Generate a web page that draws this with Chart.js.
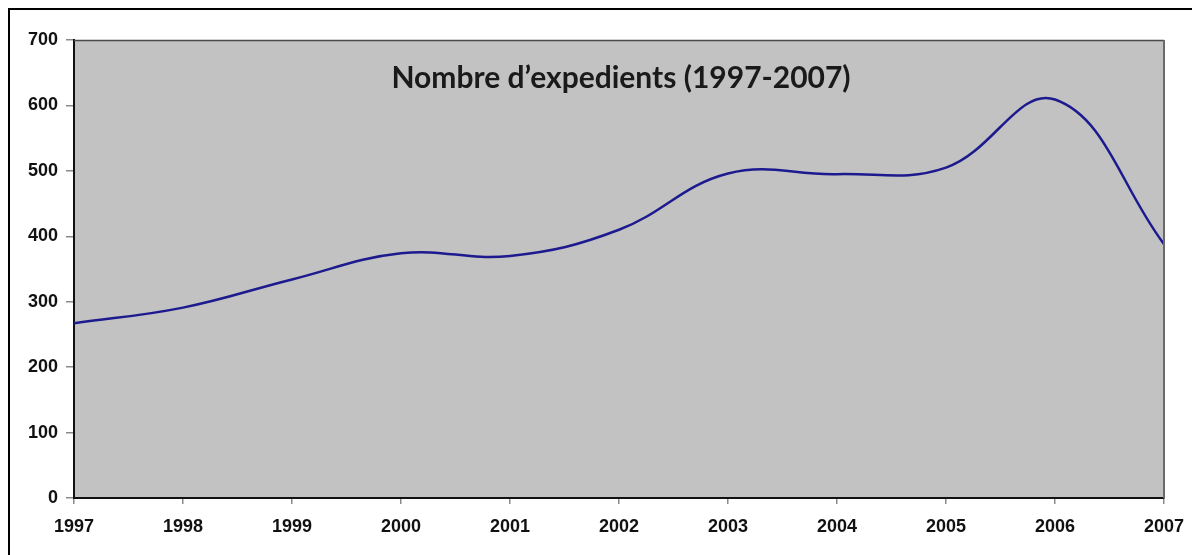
<!DOCTYPE html>
<html>
<head>
<meta charset="utf-8">
<script src="https://cdn.jsdelivr.net/npm/chart.js@4/dist/chart.umd.min.js"></script>
<style>
  html, body { margin:0; padding:0; background:#fff; overflow:hidden; }
  #wrap { position:relative; width:1192px; height:555px; }
  #frame { position:absolute; left:8px; top:8px; width:1300px; height:700px; border:2px solid #000; box-sizing:border-box; pointer-events:none; }
  canvas { position:absolute; left:0; top:0; }
</style>
</head>
<body>
<div id="wrap">
  <canvas id="c" width="1192" height="555"></canvas>
  <div id="frame"></div>
</div>
<script>
const years = [1997, 1998, 1999, 2000, 2001, 2002, 2003, 2004, 2005, 2006, 2007];
const expedients = [267, 291, 334, 374, 370, 410, 496, 495, 505, 609, 388];
const yTicks = [0, 100, 200, 300, 400, 500, 600, 700];
const titleText = "Nombre d\u2019expedients (1997-2007)";

const bgPlugin = {
  id: 'bg',
  beforeDraw(chart) {
    const {ctx, chartArea: a} = chart;
    ctx.save();
    ctx.fillStyle = '#c2c2c2';
    ctx.fillRect(a.left, a.top, a.right - a.left, a.bottom - a.top);
    ctx.restore();
  },
  afterDatasetsDraw(chart) {
    const {ctx, chartArea: a} = chart;
    ctx.save();
    ctx.strokeStyle = '#4a4a4a';
    ctx.lineWidth = 1.5;
    ctx.beginPath();
    ctx.moveTo(a.left, a.top + 0.5);
    ctx.lineTo(a.right, a.top + 0.5);
    ctx.stroke();
    ctx.strokeStyle = '#6a6a6a';
    ctx.lineWidth = 2;
    ctx.beginPath();
    ctx.moveTo(a.right, a.top);
    ctx.lineTo(a.right, a.bottom);
    ctx.stroke();
    ctx.fillStyle = '#1a1a1a';
    ctx.font = 'bold 30px Lato, "Noto Sans", sans-serif';
    ctx.textAlign = 'center';
    ctx.textBaseline = 'middle';
    ctx.fillText(titleText, 621, 78);
    ctx.restore();
  }
};

new Chart(document.getElementById('c'), {
  type: 'line',
  data: {
    datasets: [{
      data: years.map((y, i) => ({x: y, y: expedients[i]})),
      borderColor: '#1c1a8e',
      borderWidth: 2.5,
      pointRadius: 0,
      tension: 0.4,
      fill: false
    }]
  },
  options: {
    responsive: false,
    animation: false,
    devicePixelRatio: 1,
    layout: { padding: { top: 40, right: 28, left: 0, bottom: 0 } },
    plugins: { legend: { display: false }, tooltip: { enabled: false }, title: { display: false } },
    scales: {
      x: {
        type: 'linear',
        min: 1997, max: 2007,
        afterBuildTicks(scale) { scale.ticks = years.map(v => ({value: v})); },
        afterFit(scale) { scale.height = 57; scale.paddingRight = 0; scale.paddingLeft = 0; },
        ticks: {
          callback: v => String(v),
          color: '#111',
          font: { family: '"Liberation Sans", Arial, sans-serif', size: 18, weight: 'bold' },
          padding: 12,
          maxRotation: 0, autoSkip: false
        },
        grid: { drawOnChartArea: false, drawTicks: true, tickLength: 6, color: '#8a8a8a', lineWidth: 1.5 },
        border: { display: true, color: '#111', width: 2 }
      },
      y: {
        min: 0, max: 700,
        afterBuildTicks(scale) { scale.ticks = yTicks.map(v => ({value: v})); },
        afterFit(scale) { scale.width = 74; },
        ticks: {
          color: '#111',
          font: { family: '"Liberation Sans", Arial, sans-serif', size: 18, weight: 'bold' },
          padding: 8
        },
        grid: { drawOnChartArea: false, drawTicks: true, tickLength: 8, color: '#8a8a8a', lineWidth: 1.5 },
        border: { display: true, color: '#111', width: 2 }
      }
    }
  },
  plugins: [bgPlugin]
});
</script>
</body>
</html>
